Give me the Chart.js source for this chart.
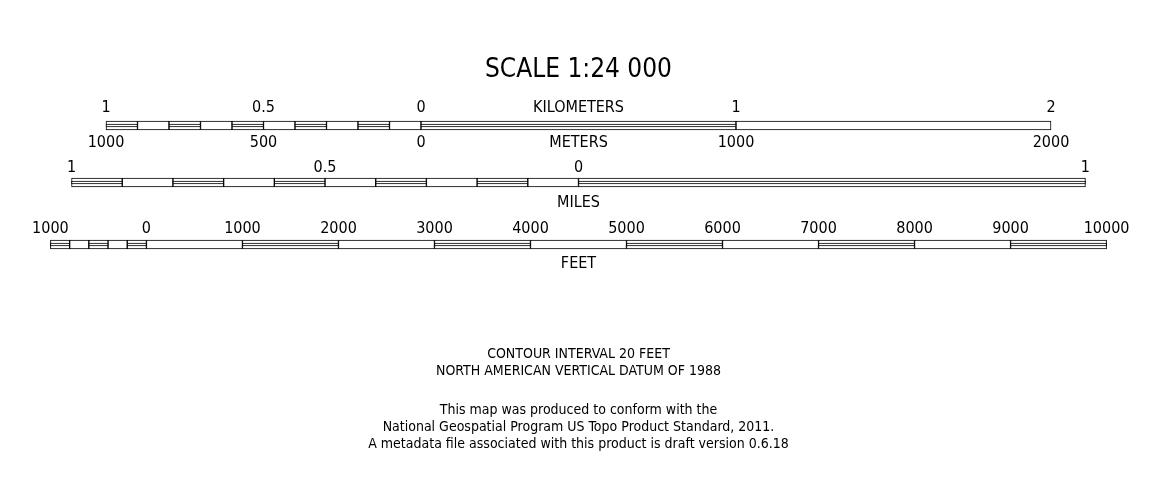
<!DOCTYPE html>
<html>
<head>
<meta charset="utf-8">
<script src="https://cdn.jsdelivr.net/npm/chart.js@4.4.1/dist/chart.umd.min.js"></script>
<style>
  html, body { margin: 0; padding: 0; background: #ffffff; }
  #wrap { width: 1153px; height: 502px; }
</style>
</head>
<body>
<div id="wrap"><canvas id="c" width="1153" height="502"></canvas></div>
<script>
// ---------- data (units of each bar) ----------
const kmBounds    = [-1, -0.9, -0.8, -0.7, -0.6, -0.5, -0.4, -0.3, -0.2, -0.1, 0, 1, 2];
const kmFilled    = [1, 0, 1, 0, 1, 0, 1, 0, 1, 0, 1, 0];
const kmTickVals  = [-1, -0.5, 0, 1, 2];
const kmTickText  = ['1', '0.5', '0', '1', '2'];
const mTickVals   = [-1000, -500, 0, 1000, 2000];
const mTickText   = ['1000', '500', '0', '1000', '2000'];

const miBounds    = [-1, -0.9, -0.8, -0.7, -0.6, -0.5, -0.4, -0.3, -0.2, -0.1, 0, 1];
const miFilled    = [1, 0, 1, 0, 1, 0, 1, 0, 1, 0, 1];
const miTickVals  = [-1, -0.5, 0, 1];
const miTickText  = ['1', '0.5', '0', '1'];

const ftBounds    = [-1000, -800, -600, -400, -200, 0, 1000, 2000, 3000, 4000, 5000, 6000, 7000, 8000, 9000, 10000];
const ftFilled    = [1, 0, 1, 0, 1, 0, 1, 0, 1, 0, 1, 0, 1, 0, 1];
const ftTickVals  = [-1000, 0, 1000, 2000, 3000, 4000, 5000, 6000, 7000, 8000, 9000, 10000];
const ftTickText  = ['1000', '0', '1000', '2000', '3000', '4000', '5000', '6000', '7000', '8000', '9000', '10000'];

const unitToMeters = { km: 1000, m: 1, mi: 1609.344, ft: 0.3048 };

const titleText  = 'SCALE 1:24 000';
const notesTop   = ['CONTOUR INTERVAL 20 FEET', 'NORTH AMERICAN VERTICAL DATUM OF 1988'];
const notesBot   = ['This map was produced to conform with the',
                    'National Geospatial Program US Topo Product Standard, 2011.',
                    'A metadata file associated with this product is draft version 0.6.18'];

// ---------- layout ----------
const FONT = '"DejaVu Sans Condensed", "DejaVu Sans", sans-serif';
const PX_PER_M = 0.315;
const CENTER_PX = 578.5;
const W = 1153, H = 502;
// each bar is centred on the layout: origin offset (meters) of its 0 mark
const rows = {
  km: { y: 125.5, offset: -(kmBounds[0] + kmBounds[kmBounds.length - 1]) / 2 * unitToMeters.km },
  mi: { y: 182.5, offset: -(miBounds[0] + miBounds[miBounds.length - 1]) / 2 * unitToMeters.mi },
  ft: { y: 244.5, offset: -(ftBounds[0] + ftBounds[ftBounds.length - 1]) / 2 * unitToMeters.ft }
};
const toM = (v, unit, row) => rows[row].offset + v * unitToMeters[unit];

function segs(bounds, filled, unit, row, onlyFilled) {
  const out = [];
  for (let i = 0; i < bounds.length - 1; i++) {
    if (onlyFilled && !filled[i]) continue;
    out.push({ x: [toM(bounds[i], unit, row), toM(bounds[i + 1], unit, row)], y: rows[row].y });
  }
  return out;
}

const outerStyle = { order: 2, backgroundColor: '#ffffff', borderColor: '#000000', borderWidth: 1, borderSkipped: false, barThickness: 9, grouped: false };
const innerStyle = { order: 1, backgroundColor: '#ffffff', borderColor: '#000000', borderWidth: 1, borderSkipped: false, barThickness: 3, grouped: false };

const datasets = [
  Object.assign({ label: 'km-fill', data: segs(kmBounds, kmFilled, 'km', 'km', true) }, innerStyle),
  Object.assign({ label: 'mi-fill', data: segs(miBounds, miFilled, 'mi', 'mi', true) }, innerStyle),
  Object.assign({ label: 'ft-fill', data: segs(ftBounds, ftFilled, 'ft', 'ft', true) }, innerStyle),
  Object.assign({ label: 'km', data: segs(kmBounds, kmFilled, 'km', 'km', false) }, outerStyle),
  Object.assign({ label: 'mi', data: segs(miBounds, miFilled, 'mi', 'mi', false) }, outerStyle),
  Object.assign({ label: 'ft', data: segs(ftBounds, ftFilled, 'ft', 'ft', false) }, outerStyle)
];

const textPlugin = {
  id: 'scaleText',
  afterDatasetsDraw(chart) {
    const ctx = chart.ctx, xs = chart.scales.x, ys = chart.scales.y;
    ctx.save();
    ctx.fillStyle = '#000000';
    ctx.textAlign = 'center';
    ctx.textBaseline = 'middle';
    const label = (txt, meters, y, size) => {
      ctx.font = size + 'px ' + FONT;
      ctx.fillText(txt, xs.getPixelForValue(meters), ys.getPixelForValue(y));
    };
    // title
    label(titleText, 0, 70, 26);
    // kilometers
    kmTickVals.forEach((v, i) => label(kmTickText[i], toM(v, 'km', 'km'), 108, 16));
    label('KILOMETERS', toM(0.5, 'km', 'km'), 108, 16);
    mTickVals.forEach((v, i) => label(mTickText[i], toM(v, 'm', 'km'), 143, 16));
    label('METERS', toM(500, 'm', 'km'), 143, 16);
    // miles
    miTickVals.forEach((v, i) => label(miTickText[i], toM(v, 'mi', 'mi'), 168, 16));
    label('MILES', toM(0, 'mi', 'mi'), 203, 16);
    // feet
    ftTickVals.forEach((v, i) => label(ftTickText[i], toM(v, 'ft', 'ft'), 229, 16));
    label('FEET', 0, 264, 16);
    // notes
    notesTop.forEach((t, i) => label(t, 0, 354 + i * 17, 14));
    notesBot.forEach((t, i) => label(t, 0, 410 + i * 17, 14));
    ctx.restore();
  }
};

new Chart(document.getElementById('c'), {
  type: 'bar',
  data: { datasets },
  options: {
    indexAxis: 'y',
    responsive: false,
    animation: false,
    layout: { padding: 0 },
    plugins: { legend: { display: false }, tooltip: { enabled: false }, title: { display: false } },
    scales: {
      x: { type: 'linear', display: false, offset: false, grace: 0, min: -CENTER_PX / PX_PER_M, max: (W - CENTER_PX) / PX_PER_M },
      y: { type: 'linear', display: false, offset: false, grace: 0, min: 0, max: H, reverse: true }
    }
  },
  plugins: [textPlugin]
});
</script>
</body>
</html>
